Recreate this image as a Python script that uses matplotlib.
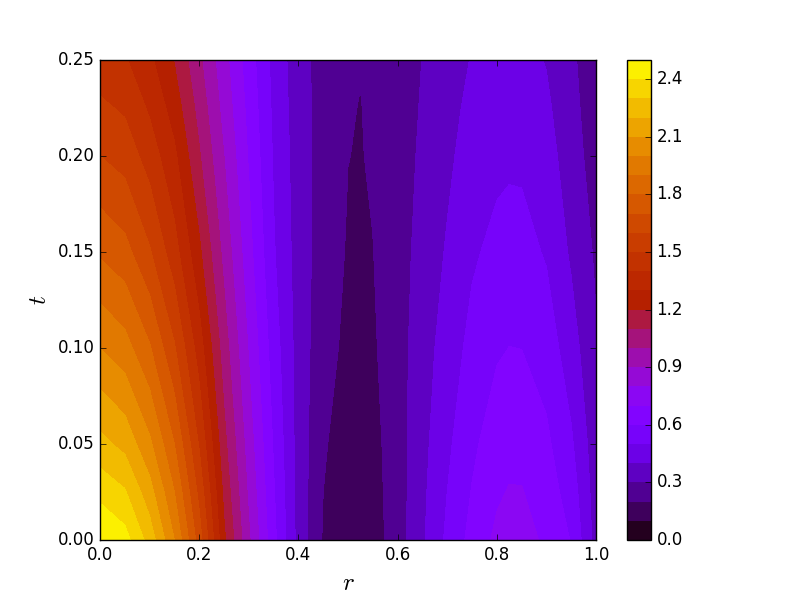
import numpy as np
import matplotlib
matplotlib.use('Agg')
import matplotlib.pyplot as plt

plt.style.use('classic')

# rejilla (mas fina en el valle y en el maximo)
r_vals = [0.0, 0.05, 0.1, 0.15, 0.2, 0.25, 0.3, 0.35, 0.4, 0.45, 0.5, 0.525,
          0.55, 0.6, 0.65, 0.7, 0.75, 0.8, 0.825, 0.85, 0.9, 0.95, 1.0]
t_vals = [0.0, 0.025, 0.05, 0.10, 0.15, 0.20, 0.225, 0.25]

# valores u(r, t) por fila de t
u_t000 = [2.50, 2.44, 2.26, 2.00, 1.65, 1.22, 0.915, 0.63, 0.365, 0.19, 0.136, 0.1355,
          0.155, 0.25, 0.385, 0.52, 0.633, 0.722, 0.746, 0.745, 0.679, 0.595, 0.36]
u_t025 = [2.37, 2.31, 2.14, 1.90, 1.57, 1.175, 0.88, 0.61, 0.362, 0.20, 0.145, 0.145,
          0.162, 0.252, 0.378, 0.50, 0.605, 0.685, 0.706, 0.705, 0.65, 0.555, 0.35]
u_t050 = [2.23, 2.17, 2.02, 1.80, 1.49, 1.13, 0.85, 0.59, 0.36, 0.21, 0.155, 0.155,
          0.168, 0.255, 0.37, 0.48, 0.58, 0.653, 0.669, 0.667, 0.62, 0.515, 0.34]
u_t100 = [2.00, 1.94, 1.81, 1.61, 1.35, 1.05, 0.79, 0.55, 0.36, 0.232, 0.18, 0.176,
          0.187, 0.258, 0.355, 0.445, 0.53, 0.588, 0.601, 0.599, 0.555, 0.445, 0.31]
u_t150 = [1.785, 1.735, 1.61, 1.44, 1.22, 0.97, 0.735, 0.51, 0.355, 0.25, 0.192, 0.188,
          0.198, 0.257, 0.335, 0.41, 0.485, 0.528, 0.538, 0.536, 0.49, 0.385, 0.285]
u_t200 = [1.60, 1.56, 1.455, 1.32, 1.11, 0.90, 0.69, 0.49, 0.35, 0.255, 0.201, 0.196,
          0.209, 0.25, 0.318, 0.38, 0.445, 0.476, 0.484, 0.482, 0.44, 0.35, 0.25]
u_t225 = [1.52, 1.485, 1.385, 1.255, 1.065, 0.865, 0.67, 0.48, 0.345, 0.258, 0.205, 0.198,
          0.212, 0.243, 0.31, 0.368, 0.425, 0.452, 0.458, 0.456, 0.417, 0.336, 0.235]
u_t250 = [1.44, 1.41, 1.32, 1.195, 1.02, 0.835, 0.65, 0.47, 0.34, 0.26, 0.21, 0.203,
          0.215, 0.235, 0.302, 0.357, 0.405, 0.428, 0.435, 0.433, 0.395, 0.323, 0.22]

niveles = np.linspace(0, 2.5, 26)
ticks_cb = [0.0, 0.3, 0.6, 0.9, 1.2, 1.5, 1.8, 2.1, 2.4]

U = np.array([u_t000, u_t025, u_t050, u_t100, u_t150, u_t200, u_t225, u_t250])
R, T = np.meshgrid(r_vals, t_vals)

fig = plt.figure(figsize=(8, 6), dpi=100)
cs = plt.contourf(R, T, U, levels=niveles, cmap='gnuplot')
cb = plt.colorbar(cs, ticks=ticks_cb)
cb.ax.set_yticklabels(['%.1f' % v for v in ticks_cb])

ax = plt.gca()
ax.set_xlim(0, 1)
ax.set_ylim(0, 0.25)
ax.set_xticks([0.0, 0.2, 0.4, 0.6, 0.8, 1.0])
ax.set_yticks([0.0, 0.05, 0.10, 0.15, 0.20, 0.25])
ax.set_xlabel('$r$', fontsize=18)
ax.set_ylabel('$t$', fontsize=18)

plt.savefig('out.png', dpi=100)
